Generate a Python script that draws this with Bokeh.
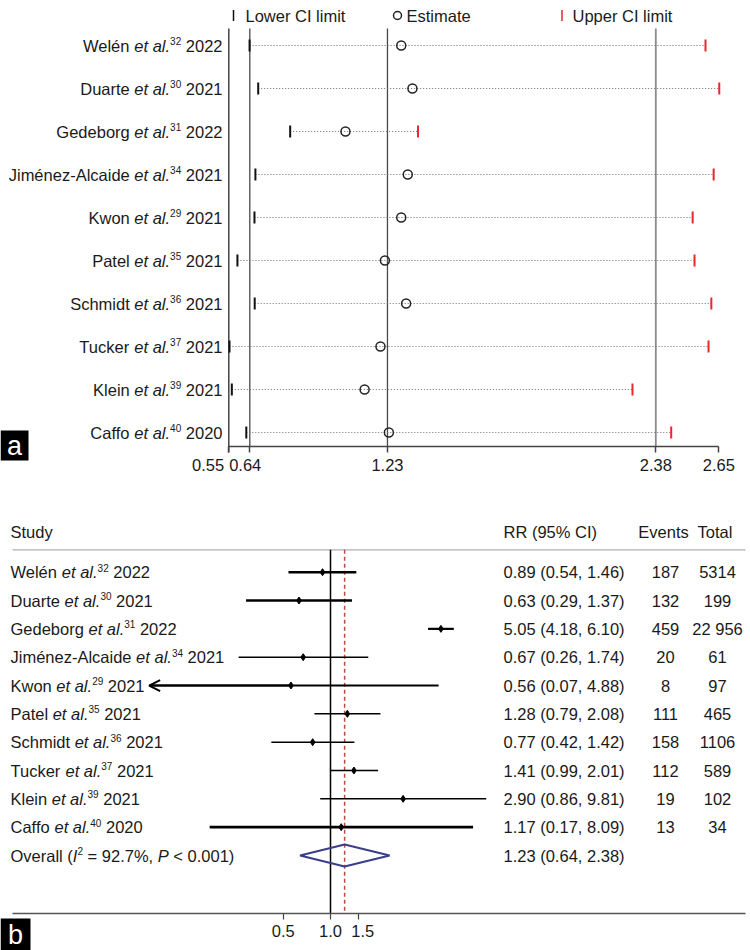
import math
from bokeh.plotting import figure
from bokeh.layouts import column
from bokeh.models import (Range1d, FixedTicker, PrintfTickFormatter, ColumnDataSource,
                          Arrow, OpenHead)
from bokeh.core.properties import value
from bokeh.embed import file_html
from bokeh.resources import INLINE

# ------------------------------------------------------------------ data
studies = ["Welén", "Duarte", "Gedeborg", "Jiménez-Alcaide", "Kwon",
           "Patel", "Schmidt", "Tucker", "Klein", "Caffo"]
ref_nums = ["32", "30", "31", "34", "29", "35", "36", "37", "39", "40"]
years = ["2022", "2021", "2022", "2021", "2021", "2021", "2021", "2021", "2021", "2020"]

# panel a: sensitivity analysis (pooled RR with each study omitted)
loo_lower = [0.639, 0.676, 0.813, 0.664, 0.660, 0.587, 0.661, 0.553, 0.563, 0.625]
loo_est = [1.289, 1.337, 1.050, 1.317, 1.289, 1.219, 1.310, 1.200, 1.132, 1.236]
loo_upper = [2.593, 2.652, 1.361, 2.628, 2.538, 2.546, 2.618, 2.606, 2.280, 2.446]
a_ticks = [0.55, 0.64, 1.23, 2.38, 2.65]
a_tick_labels = ["0.55", "0.64", "1.23", "2.38", "2.65"]
a_legend = ["Lower CI limit", "Estimate", "Upper CI limit"]

# panel b: forest plot
rr = [0.89, 0.63, 5.05, 0.67, 0.56, 1.28, 0.77, 1.41, 2.90, 1.17]
rr_lo = [0.54, 0.29, 4.18, 0.26, 0.07, 0.79, 0.42, 0.99, 0.86, 0.17]
rr_hi = [1.46, 1.37, 6.10, 1.74, 4.88, 2.08, 1.42, 2.01, 9.81, 8.09]
events = ["187", "132", "459", "20", "8", "111", "158", "112", "19", "13"]
totals = ["5314", "199", "22 956", "61", "97", "465", "1106", "589", "102", "34"]
overall_rr, overall_lo, overall_hi = 1.23, 0.64, 2.38
overall_i2 = "92.7%"
overall_p = "< 0.001"
null_value = 1.0
b_ticks = [0.5, 1.0, 1.5]
b_tick_labels = ["0.5", "1.0", "1.5"]
b_headers = ["Study", "RR (95% CI)", "Events", "Total"]
axis_floor = 0.1          # CIs below this get an arrow (as in the source plot)
panel_tags = ["a", "b"]

# ------------------------------------------------------------------ styles / layout
FONT = "Liberation Sans"
FS = 16.5
SS = 10.0
TXT = "#1a1a1a"
W = 750
A_H, A_AXIS_Y, A_ROW0, A_STEP = 478, 446.0, 45.0, 43.0
A_X0_PX, A_X1_PX = 228.3, 718.3
B_H, B_AXIS_Y, B_ROW0, B_STEP = 472, 435.3, 93.7, 28.33
B_NULL_PX, B_PX_PER_LN = 330.0, 68.2
b_line_w = [2.6, 2.6, 2.2, 1.6, 2.0, 1.5, 1.5, 1.5, 1.5, 2.6]
NB = "\u00a0"

AW = {' ': 278, '(': 333, ')': 333, ',': 278, '-': 333, '.': 278, '%': 889, '=': 584, '<': 584,
      'A': 667, 'C': 722, 'D': 722, 'E': 667, 'G': 778, 'I': 278, 'J': 500, 'K': 667, 'L': 556,
      'O': 778, 'P': 667, 'R': 722, 'S': 667, 'T': 611, 'U': 722, 'W': 944,
      'a': 556, 'b': 556, 'c': 500, 'd': 556, 'e': 556, 'f': 278, 'g': 556, 'h': 556, 'i': 222,
      'j': 222, 'k': 500, 'l': 222, 'm': 833, 'n': 556, 'o': 556, 'p': 556, 'r': 333, 's': 500,
      't': 278, 'u': 556, 'v': 500, 'w': 722, 'x': 500, 'y': 500, 'z': 500, 'é': 556}
for _d in "0123456789":
    AW[_d] = 556


def tw(s, size):
    return sum(AW.get(c, 556) for c in s) * size / 1000.0


def a_x(px):
    return a_ticks[0] + (px - A_X0_PX) * (a_ticks[-1] - a_ticks[0]) / (A_X1_PX - A_X0_PX)


def a_y(py):
    return (py - A_ROW0) / A_STEP


def b_x(px):
    return math.exp((px - B_NULL_PX) / B_PX_PER_LN)


def b_y(py):
    return (py - B_ROW0) / B_STEP


def rich(pieces, anchor_px, align, row, store, xmap):
    widths = [tw(t, SS if k == 's' else FS) for t, k in pieces]
    cur = anchor_px - sum(widths) if align == 'right' else anchor_px
    for (t, k), w in zip(pieces, widths):
        size = SS if k == 's' else FS
        lead = len(t) - len(t.lstrip(' '))
        store[k]['x'].append(xmap(cur + tw(' ' * lead, size)))
        store[k]['y'].append(row)
        store[k]['text'].append(t.strip())
        cur += w


def new_store():
    return {k: {'x': [], 'y': [], 'text': []} for k in ('n', 'i', 's')}


def draw_store(p, store):
    for k, d in store.items():
        if not d['text']:
            continue
        p.text(x='x', y='y', text='text', source=ColumnDataSource(d),
               text_font=value(FONT),
               text_font_size=f"{SS if k == 's' else FS}px",
               text_font_style="italic" if k == 'i' else "normal",
               text_baseline="middle", text_align="left",
               y_offset=-4.5 if k == 's' else 0, text_color=TXT)


def style_fig(p):
    p.xgrid.visible = False
    p.ygrid.visible = False
    p.background_fill_color = "white"
    p.border_fill_color = "white"


def style_axis(ax, tick_out, standoff):
    ax.axis_line_color = "#444444"
    ax.axis_line_width = 1.5
    ax.major_tick_line_color = "#444444"
    ax.major_tick_line_width = 1.5
    ax.major_tick_out = tick_out
    ax.major_tick_in = 0
    ax.minor_tick_out = 0
    ax.minor_tick_in = 0
    ax.major_label_standoff = standoff
    ax.major_label_text_font = FONT
    ax.major_label_text_font_size = f"{FS}px"
    ax.major_label_text_color = TXT


def tag_box(p, xmap, ymap, left, top, size, tag):
    p.quad(left=[xmap(left)], right=[xmap(left + size)], top=[ymap(top)],
           bottom=[ymap(top + size + 2)], fill_color="black", line_color=None)
    p.text(x=[xmap(left + size / 2)], y=[ymap(top + size / 2 + 1)], text=[tag],
           text_font=value(FONT), text_font_size="27px", text_color="white",
           text_align="center", text_baseline="middle")


n = len(studies)
rows = list(range(n))

# ================================================================== panel a
pa = figure(width=W, height=A_H, x_range=Range1d(a_x(0), a_x(W)),
            y_range=Range1d(a_y(A_H), a_y(0)), output_backend="svg",
            toolbar_location=None, y_axis_location=None, min_border=0,
            outline_line_color=None)
style_fig(pa)

top_line = a_y(28)
bot_line = a_y(A_AXIS_Y)
pa.segment(x0=[a_ticks[0]], y0=[top_line], x1=[a_ticks[0]], y1=[a_y(A_AXIS_Y + 6)],
           line_color="#444444", line_width=1.5)
pa.segment(x0=[overall_lo, overall_rr, overall_hi], y0=[top_line] * 3,
           x1=[overall_lo, overall_rr, overall_hi], y1=[bot_line] * 3,
           line_color=["#4a4a4a", "#4a4a4a", "#8c8c8c"], line_width=[1.3, 1.3, 1.8])
pa.segment(x0=loo_lower, y0=rows, x1=loo_upper, y1=rows, line_color="#6e6e6e",
           line_width=1, line_dash="1 2")
pa.scatter(loo_lower, rows, marker="dash", angle=math.pi / 2, size=12,
           line_width=2, line_color="#111111")
pa.scatter(loo_upper, rows, marker="dash", angle=math.pi / 2, size=12,
           line_width=2, line_color="#e8262b")
pa.scatter(loo_est, rows, marker="circle", size=9, fill_color=None,
           line_color="#222222", line_width=1.5)

# legend row
leg_y = a_y(15)
pa.scatter([a_x(233)], [leg_y], marker="dash", angle=math.pi / 2, size=11,
           line_width=1.5, line_color="#111111")
pa.scatter([a_x(397)], [leg_y], marker="circle", size=8, fill_color=None,
           line_color="#222222", line_width=1.5)
pa.scatter([a_x(561.5)], [leg_y], marker="dash", angle=math.pi / 2, size=11,
           line_width=1.5, line_color="#e8262b")
pa.text(x=[a_x(245), a_x(406), a_x(572)], y=[leg_y] * 3, text=a_legend,
        text_font=value(FONT), text_font_size=f"{FS}px", text_baseline="middle",
        text_color=TXT)

st_a = new_store()
for i in range(n):
    rich([(studies[i] + " ", 'n'), ("et al.", 'i'), (ref_nums[i], 's'), (" " + years[i], 'n')],
         222, 'right', i, st_a, a_x)
draw_store(pa, st_a)

ax = pa.xaxis[0]
ax.fixed_location = a_y(A_AXIS_Y)
ax.ticker = FixedTicker(ticks=a_ticks)
ax.bounds = (a_ticks[0], a_ticks[-1])
pads = {0: NB * 9, 1: NB * 2}
ax.major_label_overrides = {t: lab + pads.get(j, "")
                            for j, (t, lab) in enumerate(zip(a_ticks, a_tick_labels))}
style_axis(ax, 6, 3)

tag_box(pa, a_x, a_y, 0, 430, 28, panel_tags[0])

# ================================================================== panel b
pb = figure(width=W, height=B_H, x_axis_type="log", x_range=Range1d(b_x(0), b_x(W)),
            y_range=Range1d(b_y(B_H), b_y(0)), output_backend="svg",
            toolbar_location=None, y_axis_location=None, min_border=0,
            outline_line_color=None)
style_fig(pb)

hdr_line_y = b_y(71.3)
pb.segment(x0=[b_x(12)], y0=[hdr_line_y], x1=[b_x(745)], y1=[hdr_line_y],
           line_color="#b0b0b0", line_width=1.2)
pb.segment(x0=[null_value], y0=[hdr_line_y], x1=[null_value], y1=[b_y(B_AXIS_Y)],
           line_color="black", line_width=1.5)
pb.segment(x0=[overall_rr], y0=[hdr_line_y], x1=[overall_rr], y1=[b_y(B_AXIS_Y)],
           line_color="#b84a3e", line_width=1.5, line_dash="4 3")

pb.segment(x0=rr_lo, y0=rows, x1=rr_hi, y1=rows, line_color="black", line_width=b_line_w)
for i in range(n):
    if rr_lo[i] < axis_floor:
        pb.add_layout(Arrow(end=OpenHead(size=11, line_width=2, line_color="black"),
                            x_start=rr[i], y_start=i, x_end=rr_lo[i], y_end=i,
                            line_width=2, line_color="black"))
pb.scatter(rr, rows, marker="diamond", size=7, color="black")

h = 11.0 / B_STEP
pb.patch([overall_lo, overall_rr, overall_hi, overall_rr], [n, n - h, n, n + h],
         fill_alpha=0, line_color="#3b3d8a", line_width=2)

hy = b_y(53.7)
pb.text(x=[b_x(10), b_x(503)], y=[hy, hy], text=b_headers[:2], text_font=value(FONT),
        text_font_size=f"{FS}px", text_baseline="middle", text_color=TXT)
pb.text(x=[b_x(663), b_x(714.5)], y=[hy, hy], text=b_headers[2:], text_font=value(FONT),
        text_font_size=f"{FS}px", text_baseline="middle", text_align="center",
        text_color=TXT)

st_b = new_store()
for i in range(n):
    rich([(studies[i] + " ", 'n'), ("et al.", 'i'), (ref_nums[i], 's'), (" " + years[i], 'n')],
         10, 'left', i, st_b, b_x)
rich([("Overall (", 'n'), ("I", 'i'), ("2", 's'), (" = " + overall_i2 + ", ", 'n'),
      ("P", 'i'), (" " + overall_p + ")", 'n')], 10, 'left', n, st_b, b_x)
draw_store(pb, st_b)

rr_txt = [f"{a:.2f} ({b:.2f}, {c:.2f})" for a, b, c in zip(rr, rr_lo, rr_hi)]
rr_txt.append(f"{overall_rr:.2f} ({overall_lo:.2f}, {overall_hi:.2f})")
pb.text(x=[b_x(503)] * (n + 1), y=list(range(n + 1)), text=rr_txt, text_font=value(FONT),
        text_font_size=f"{FS}px", text_baseline="middle", text_color=TXT)
pb.text(x=[b_x(665)] * n, y=rows, text=events, text_font=value(FONT),
        text_font_size=f"{FS}px", text_baseline="middle", text_align="center",
        text_color=TXT)
pb.text(x=[b_x(717)] * n, y=rows, text=totals, text_font=value(FONT),
        text_font_size=f"{FS}px", text_baseline="middle", text_align="center",
        text_color=TXT)

bx = pb.xaxis[0]
bx.fixed_location = b_y(B_AXIS_Y)
bx.ticker = FixedTicker(ticks=b_ticks)
bx.formatter = PrintfTickFormatter(format="%.1f")
bx.major_label_overrides = {b_ticks[2]: NB * 2 + b_tick_labels[2]}
bx.bounds = (b_x(12), b_x(745))
style_axis(bx, 6, 2)
bx.axis_line_color = "#555555"
bx.major_tick_line_width = 1.2

tag_box(pb, b_x, b_y, 0, 440, 30, panel_tags[1])

layout = column(pa, pb, spacing=0)
open("out.html", "w").write(file_html(layout, INLINE))
